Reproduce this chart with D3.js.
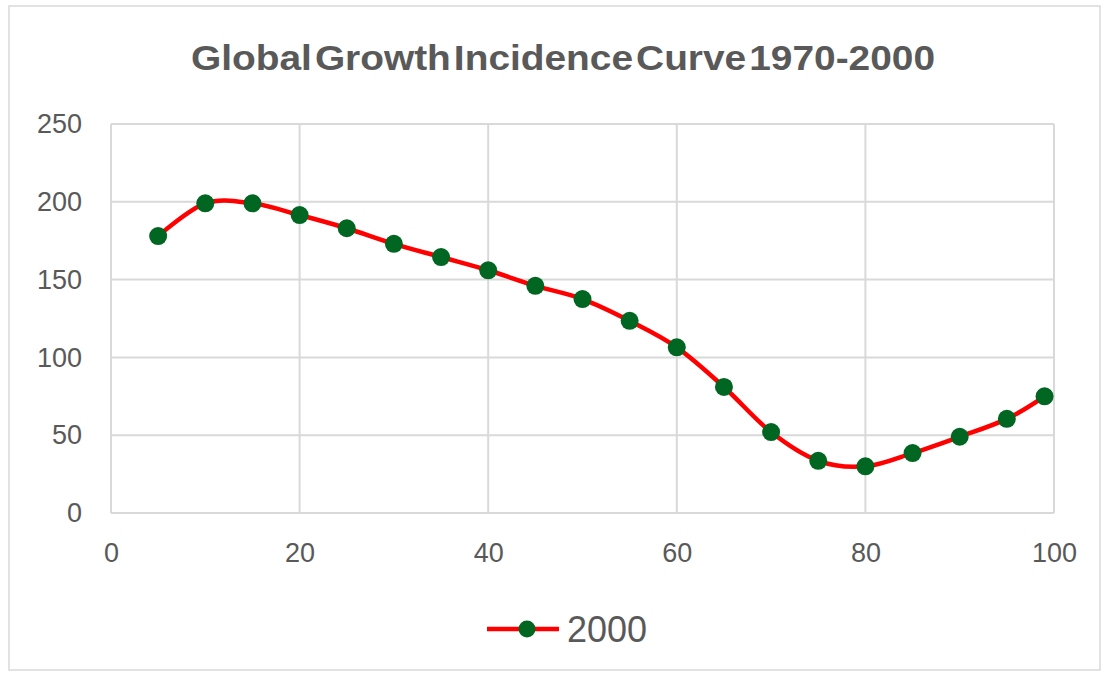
<!DOCTYPE html>
<html>
<head>
<meta charset="utf-8">
<script src="https://cdn.jsdelivr.net/npm/d3@7"></script>
<style>
  html, body { margin: 0; padding: 0; background: #ffffff; }
  svg { display: block; }
  text { font-family: "Liberation Sans", Arial, sans-serif; fill: #595959; }
</style>
</head>
<body>
<svg id="chart" width="1109" height="681"></svg>
<script>
// Income percentile and cumulative growth (%) for the 1970-2000 incidence curve
const percentiles = [5, 10, 15, 20, 25, 30, 35, 40, 45, 50, 55, 60, 65, 70, 75, 80, 85, 90, 95, 99];
const growth2000  = [178, 199, 199, 191.5, 183, 173, 164.5, 156, 146, 137.5, 123.5, 106.5, 81, 52, 33.5, 30, 38.5, 49, 60.5, 75];
const xTicks = [0, 20, 40, 60, 80, 100];
const yTicks = [0, 50, 100, 150, 200, 250];
const seriesName = "2000";
const chartTitle = "Global Growth Incidence Curve 1970-2000";

const svg = d3.select("#chart");
const plot = { left: 111, right: 1054, top: 124, bottom: 513 };

// Outer chart frame
svg.append("rect")
  .attr("x", 9).attr("y", 6)
  .attr("width", 1100 - 9).attr("height", 670 - 6)
  .attr("fill", "#ffffff")
  .attr("stroke", "#d9d9d9").attr("stroke-width", 1.5);

const x = d3.scaleLinear().domain([0, 100]).range([plot.left, plot.right]);
const y = d3.scaleLinear().domain([0, 250]).range([plot.bottom, plot.top]);

// Title: tall, tightly set bold text
svg.append("text")
  .attr("x", 563).attr("y", 70)
  .attr("text-anchor", "middle")
  .attr("font-size", 35).attr("font-weight", "bold")
  .attr("word-spacing", -7)
  .attr("textLength", 744).attr("lengthAdjust", "spacingAndGlyphs")
  .text(chartTitle);

// Gridlines
const grid = svg.append("g").attr("stroke", "#d9d9d9").attr("stroke-width", 2);
grid.selectAll("line.h").data(yTicks).join("line")
  .attr("class", "h")
  .attr("x1", plot.left).attr("x2", plot.right)
  .attr("y1", d => y(d)).attr("y2", d => y(d));
grid.selectAll("line.v").data(xTicks).join("line")
  .attr("class", "v")
  .attr("x1", d => x(d)).attr("x2", d => x(d))
  .attr("y1", plot.top).attr("y2", plot.bottom);

// Axes (labels only)
const xAxis = svg.append("g")
  .attr("transform", `translate(0,${plot.bottom})`)
  .call(d3.axisBottom(x).tickValues(xTicks).tickSize(0).tickPadding(30));
const yAxis = svg.append("g")
  .attr("transform", `translate(${plot.left},0)`)
  .call(d3.axisLeft(y).tickValues(yTicks).tickSize(0).tickPadding(29));
[xAxis, yAxis].forEach(a => {
  a.select(".domain").remove();
  a.selectAll("text")
    .attr("font-size", 27)
    .attr("font-family", "\"Liberation Sans\", Arial, sans-serif")
    .attr("fill", "#595959");
});

// Smoothed series line
const data = percentiles.map((p, i) => ({ p, v: growth2000[i] }));
const line = d3.line()
  .x(d => x(d.p))
  .y(d => y(d.v))
  .curve(d3.curveCatmullRom.alpha(0));

svg.append("path")
  .datum(data)
  .attr("fill", "none")
  .attr("stroke", "#ff0000")
  .attr("stroke-width", 4.5)
  .attr("stroke-linejoin", "round")
  .attr("d", line);

svg.append("g").selectAll("circle").data(data).join("circle")
  .attr("cx", d => x(d.p))
  .attr("cy", d => y(d.v))
  .attr("r", 9)
  .attr("fill", "#006622");

// Legend
const legend = svg.append("g");
legend.append("line")
  .attr("x1", 487).attr("x2", 559)
  .attr("y1", 629).attr("y2", 629)
  .attr("stroke", "#ff0000").attr("stroke-width", 4.5);
legend.append("circle")
  .attr("cx", 527).attr("cy", 629).attr("r", 8.5)
  .attr("fill", "#006622");
legend.append("text")
  .attr("x", 567).attr("y", 642)
  .attr("font-size", 36)
  .text(seriesName);
</script>
</body>
</html>
